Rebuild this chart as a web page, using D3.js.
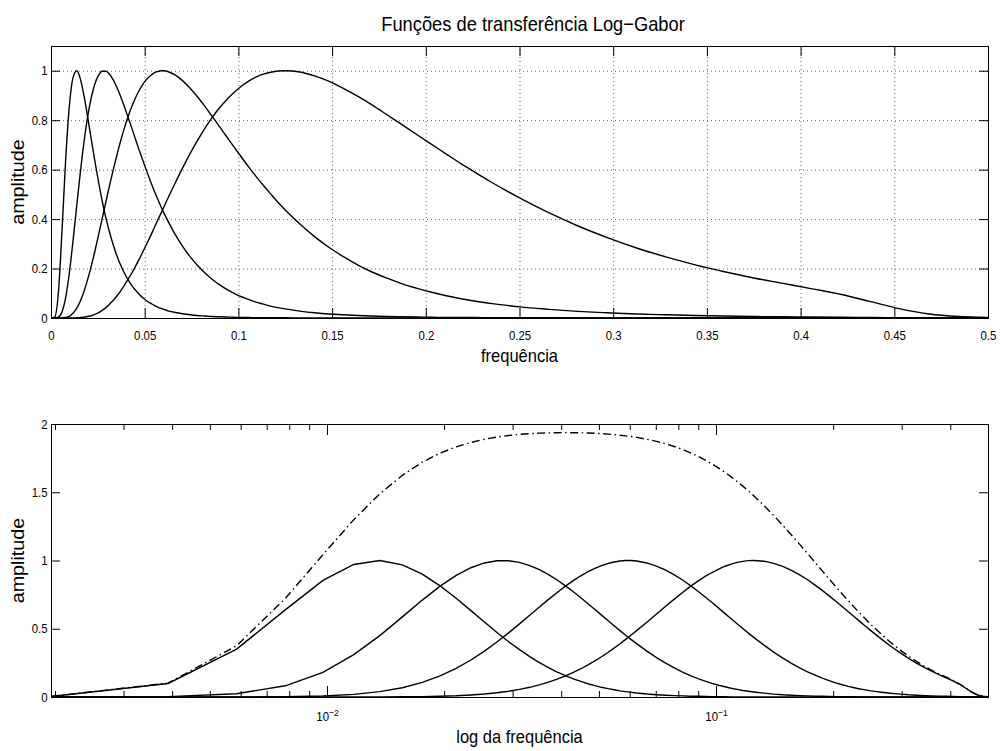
<!DOCTYPE html>
<html>
<head>
<meta charset="utf-8">
<script src="https://cdn.jsdelivr.net/npm/d3@7"></script>
<style>
  body { margin: 0; background: #fff; }
  text { font-family: "Liberation Sans", Arial, Helvetica, sans-serif; }
</style>
</head>
<body>
<script>

// FFT size, the frequency of a bin is k / N
var N = 512;

var bins = [0,
  1, 2, 3, 4, 5, 6, 7, 8, 9, 10, 11, 12, 13, 14, 15, 16,
  17, 18, 19, 20, 21, 22, 23, 24, 25, 26, 27, 28, 29, 30, 31, 32,
  34, 36, 38, 40, 42, 44, 46, 48, 50, 52, 54, 56, 58, 60, 62, 64,
  68, 72, 76, 80, 84, 88, 92, 96, 100, 104, 108, 112, 116, 120, 124, 128,
  136, 144, 152, 160, 168, 176, 184, 192, 200, 208, 216, 224, 232, 240, 248, 256];

// Log-Gabor transfer functions (four scales)
var filter1 = [0,
  0.004, 0.099, 0.351, 0.638, 0.854, 0.971, 1.000, 0.968, 0.900, 0.814, 0.723, 0.633, 0.549, 0.473, 0.405, 0.347,
  0.296, 0.252, 0.215, 0.183, 0.156, 0.133, 0.114, 0.097, 0.083, 0.071, 0.061, 0.053, 0.045, 0.039, 0.034, 0.029,
  0.022, 0.017, 0.013, 0.010, 0.008, 0.006, 0.005, 0.004, 0.003, 0.002, 0.002, 0.001, 0.001, 0.001, 0.001, 0.001,
  0, 0, 0, 0, 0, 0, 0, 0, 0, 0, 0, 0, 0, 0, 0, 0,
  0, 0, 0, 0, 0, 0, 0, 0, 0, 0, 0, 0, 0, 0, 0, 0];

var filter2 = [0,
  0.000, 0.003, 0.024, 0.082, 0.181, 0.310, 0.450, 0.587, 0.710, 0.812, 0.891, 0.947, 0.982, 0.998, 0.998, 0.986,
  0.963, 0.933, 0.897, 0.857, 0.814, 0.771, 0.727, 0.683, 0.641, 0.600, 0.560, 0.522, 0.486, 0.452, 0.420, 0.391,
  0.336, 0.289, 0.248, 0.213, 0.183, 0.157, 0.135, 0.116, 0.100, 0.086, 0.075, 0.064, 0.056, 0.048, 0.042, 0.037,
  0.028, 0.021, 0.016, 0.013, 0.010, 0.008, 0.006, 0.005, 0.004, 0.003, 0.002, 0.002, 0.002, 0.001, 0.001, 0.001,
  0.001, 0, 0, 0, 0, 0, 0, 0, 0, 0, 0, 0, 0, 0, 0, 0];

var filter3 = [0,
  0, 0, 0.000, 0.002, 0.007, 0.019, 0.039, 0.068, 0.107, 0.155, 0.210, 0.271, 0.336, 0.403, 0.470, 0.536,
  0.599, 0.659, 0.715, 0.766, 0.812, 0.852, 0.888, 0.918, 0.943, 0.963, 0.978, 0.989, 0.996, 1.000, 1.000, 0.996,
  0.982, 0.959, 0.929, 0.895, 0.857, 0.816, 0.775, 0.733, 0.692, 0.651, 0.611, 0.573, 0.537, 0.502, 0.468, 0.437,
  0.380, 0.329, 0.285, 0.247, 0.213, 0.184, 0.160, 0.138, 0.120, 0.104, 0.090, 0.078, 0.068, 0.059, 0.052, 0.045,
  0.035, 0.027, 0.021, 0.016, 0.013, 0.010, 0.008, 0.006, 0.005, 0.004, 0.003, 0.002, 0.001, 0.000, 0.000, 0];

var filter4 = [0,
  0, 0, 0, 0, 0, 0.000, 0.001, 0.002, 0.003, 0.006, 0.009, 0.015, 0.022, 0.031, 0.042, 0.056,
  0.071, 0.089, 0.109, 0.131, 0.155, 0.180, 0.207, 0.235, 0.265, 0.295, 0.326, 0.358, 0.390, 0.422, 0.454, 0.486,
  0.548, 0.608, 0.665, 0.717, 0.766, 0.810, 0.849, 0.883, 0.912, 0.937, 0.958, 0.974, 0.986, 0.994, 0.999, 1.000,
  0.995, 0.979, 0.957, 0.928, 0.895, 0.859, 0.820, 0.781, 0.741, 0.702, 0.663, 0.624, 0.588, 0.552, 0.518, 0.486,
  0.426, 0.372, 0.325, 0.283, 0.247, 0.215, 0.187, 0.162, 0.140, 0.118, 0.095, 0.066, 0.037, 0.016, 0.006, 0.002];

// Dash-dot curve of the lower plot (sum of the four filters)
var filterSum = [0,
  0.004, 0.102, 0.375, 0.722, 1.043, 1.299, 1.489, 1.624, 1.720, 1.786, 1.833, 1.865, 1.888, 1.904, 1.916, 1.924,
  1.929, 1.933, 1.935, 1.936, 1.937, 1.936, 1.935, 1.934, 1.932, 1.929, 1.926, 1.922, 1.918, 1.913, 1.908, 1.902,
  1.888, 1.873, 1.855, 1.835, 1.813, 1.789, 1.763, 1.736, 1.707, 1.677, 1.645, 1.613, 1.579, 1.545, 1.510, 1.474,
  1.402, 1.330, 1.258, 1.187, 1.118, 1.051, 0.986, 0.924, 0.865, 0.808, 0.755, 0.705, 0.657, 0.613, 0.571, 0.532,
  0.461, 0.399, 0.345, 0.299, 0.259, 0.224, 0.194, 0.168, 0.145, 0.122, 0.097, 0.068, 0.038, 0.017, 0.006, 0.002];

// Tick values
var topXTicks = [0, 0.05, 0.1, 0.15, 0.2, 0.25, 0.3, 0.35, 0.4, 0.45, 0.5];
var topYTicks = [0, 0.2, 0.4, 0.6, 0.8, 1];
var bottomYTicks = [0, 0.5, 1, 1.5, 2];
var bottomMajorTicks = [0.01, 0.1];
var bottomMinorTicks = [0.002, 0.003, 0.004, 0.005, 0.006, 0.007, 0.008, 0.009,
                        0.02, 0.03, 0.04, 0.05, 0.06, 0.07, 0.08, 0.09,
                        0.2, 0.3, 0.4];

var filters = [filter1, filter2, filter3, filter4];

function toPoints(values) {
  return bins.map(function(k, i) { return {f: k / N, v: values[i]}; });
}

var width = 1001,
    height = 751;

// The original figure text is a bit taller than wide
var SY = 1.13;

var svg = d3.select("body")
            .append("svg")
              .attr("width", width)
              .attr("height", height);

svg.append("rect")
    .attr("width", width)
    .attr("height", height)
    .attr("fill", "#fff");

var left = 51, right = 988;

// Move x/y of a text into a transform so it can be stretched
function stretch(sel) {
  sel.each(function() {
    var t = d3.select(this);
    var x = +t.attr("x") || 0,
        y = +t.attr("y") || 0;
    t.attr("x", null).attr("y", null)
     .attr("transform", "translate(" + x + "," + y + ") scale(1," + SY + ")");
  });
}

// Style the text and lines made by d3.axis
function styleAxis(g) {
  g.select(".domain").remove();
  g.attr("font-size", null).attr("font-family", null);
  g.selectAll(".tick line").attr("stroke", "#000").attr("stroke-width", 1);
  g.selectAll("text").attr("fill", "#000").style("font-size", "11.4px").call(stretch);
}

function label(x, y, size, str) {
  return svg.append("text")
      .attr("transform", "translate(" + x + "," + y + ") scale(1," + SY + ")")
      .attr("text-anchor", "middle")
      .style("font-size", size + "px")
      .text(str);
}

function yLabel(x, y, size, str) {
  return svg.append("text")
      .attr("transform", "translate(" + x + "," + y + ") rotate(-90) scale(" + SY + ",1)")
      .attr("text-anchor", "middle")
      .style("font-size", size + "px")
      .text(str);
}

// ---------- Upper plot: linear frequency ----------
var topY0 = 318, topY1 = 46;

var xTop = d3.scaleLinear()
             .domain([0, 0.5])
             .range([left, right]);

var yTop = d3.scaleLinear()
             .domain([0, 1.1])
             .range([topY0, topY1]);

// Dotted grid
var gridX = svg.append("g")
    .attr("transform", "translate(0," + topY0 + ")")
    .call(d3.axisBottom(xTop)
            .tickValues(topXTicks.slice(1, -1))
            .tickSize(-(topY0 - topY1))
            .tickFormat(""));
gridX.select(".domain").remove();
gridX.selectAll("line").attr("stroke", "#666").attr("stroke-dasharray", "1,3");

var gridY = svg.append("g")
    .attr("transform", "translate(" + left + ",0)")
    .call(d3.axisLeft(yTop)
            .tickValues(topYTicks.slice(1))
            .tickSize(-(right - left))
            .tickFormat(""));
gridY.select(".domain").remove();
gridY.selectAll("line").attr("stroke", "#666").attr("stroke-dasharray", "1,3");

// Curves
var lineTop = d3.line()
                .x(function(d) { return xTop(d.f); })
                .y(function(d) { return yTop(d.v); })
                .curve(d3.curveMonotoneX);

svg.append("g")
  .selectAll("path")
  .data(filters)
  .enter()
  .append("path")
    .attr("d", function(d) { return lineTop(toPoints(d)); })
    .attr("fill", "none")
    .attr("stroke", "#000")
    .attr("stroke-width", 1.4);

// Box and ticks on all four sides
svg.append("rect")
    .attr("x", left + 0.5)
    .attr("y", topY1 + 0.5)
    .attr("width", right - left)
    .attr("height", topY0 - topY1)
    .attr("fill", "none")
    .attr("stroke", "#000");

svg.append("g")
    .attr("transform", "translate(0," + topY0 + ")")
    .call(d3.axisBottom(xTop).tickValues(topXTicks).tickSizeInner(-10).tickSizeOuter(0)
            .tickPadding(12.5).tickFormat(function(d) { return String(d); }))
    .call(styleAxis);

svg.append("g")
    .attr("transform", "translate(0," + topY1 + ")")
    .call(d3.axisTop(xTop).tickValues(topXTicks).tickSizeInner(-10).tickSizeOuter(0).tickFormat(""))
    .call(styleAxis);

svg.append("g")
    .attr("transform", "translate(" + left + ",0)")
    .call(d3.axisLeft(yTop).tickValues(topYTicks).tickSizeInner(-9).tickSizeOuter(0)
            .tickPadding(3.5).tickFormat(function(d) { return String(d); }))
    .call(styleAxis);

svg.append("g")
    .attr("transform", "translate(" + right + ",0)")
    .call(d3.axisRight(yTop).tickValues(topYTicks).tickSizeInner(-9).tickSizeOuter(0).tickFormat(""))
    .call(styleAxis);

// Titles and labels
label(533, 31, 18.3, "Funções de transferência Log−Gabor");
label((left + right) / 2, 362, 16.5, "frequência");
yLabel(24, (topY0 + topY1) / 2, 17.5, "amplitude");

// ---------- Lower plot: log frequency ----------
var botY0 = 697, botY1 = 424;

var xBot = d3.scaleLog()
             .domain([1 / N, 0.5])
             .range([left, right]);

var yBot = d3.scaleLinear()
             .domain([0, 2])
             .range([botY0, botY1]);

var lineBot = d3.line()
                .x(function(d) { return xBot(d.f); })
                .y(function(d) { return yBot(d.v); });

function positive(points) {
  return points.filter(function(d) { return d.f > 0; });
}

svg.append("g")
  .selectAll("path")
  .data(filters)
  .enter()
  .append("path")
    .attr("d", function(d) { return lineBot(positive(toPoints(d))); })
    .attr("fill", "none")
    .attr("stroke", "#000")
    .attr("stroke-width", 1.4);

svg.append("path")
    .attr("d", lineBot(positive(toPoints(filterSum))))
    .attr("fill", "none")
    .attr("stroke", "#000")
    .attr("stroke-width", 1.4)
    .attr("stroke-dasharray", "8,3.5,1.5,3.5");

svg.append("rect")
    .attr("x", left + 0.5)
    .attr("y", botY1 + 0.5)
    .attr("width", right - left)
    .attr("height", botY0 - botY1)
    .attr("fill", "none")
    .attr("stroke", "#000");

// Major ticks with 10^n labels
var botAxis = svg.append("g")
    .attr("transform", "translate(0," + botY0 + ")")
    .call(d3.axisBottom(xBot).tickValues(bottomMajorTicks).tickSizeInner(-11).tickSizeOuter(0)
            .tickPadding(15).tickFormat(""))
    .call(styleAxis);

botAxis.selectAll(".tick text")
    .attr("text-anchor", "middle")
    .each(function(d) {
      var t = d3.select(this);
      t.append("tspan").text("10");
      t.append("tspan")
          .attr("dy", "-0.55em")
          .style("font-size", "8.5px")
          .text("−" + Math.round(-Math.log10(d)));
    });

svg.append("g")
    .attr("transform", "translate(0," + botY1 + ")")
    .call(d3.axisTop(xBot).tickValues(bottomMajorTicks).tickSizeInner(-11).tickSizeOuter(0).tickFormat(""))
    .call(styleAxis);

// Minor ticks
svg.append("g")
    .attr("transform", "translate(0," + botY0 + ")")
    .call(d3.axisBottom(xBot).tickValues(bottomMinorTicks).tickSizeInner(-6).tickSizeOuter(0).tickFormat(""))
    .call(styleAxis);

svg.append("g")
    .attr("transform", "translate(0," + botY1 + ")")
    .call(d3.axisTop(xBot).tickValues(bottomMinorTicks).tickSizeInner(-6).tickSizeOuter(0).tickFormat(""))
    .call(styleAxis);

svg.append("g")
    .attr("transform", "translate(" + left + ",0)")
    .call(d3.axisLeft(yBot).tickValues(bottomYTicks).tickSizeInner(-9).tickSizeOuter(0)
            .tickPadding(3.5).tickFormat(function(d) { return String(d); }))
    .call(styleAxis);

svg.append("g")
    .attr("transform", "translate(" + right + ",0)")
    .call(d3.axisRight(yBot).tickValues(bottomYTicks).tickSizeInner(-9).tickSizeOuter(0).tickFormat(""))
    .call(styleAxis);

label((left + right) / 2, 743, 16.5, "log da frequência");
yLabel(24, (botY0 + botY1) / 2, 17.5, "amplitude");

</script>
</body>
</html>
